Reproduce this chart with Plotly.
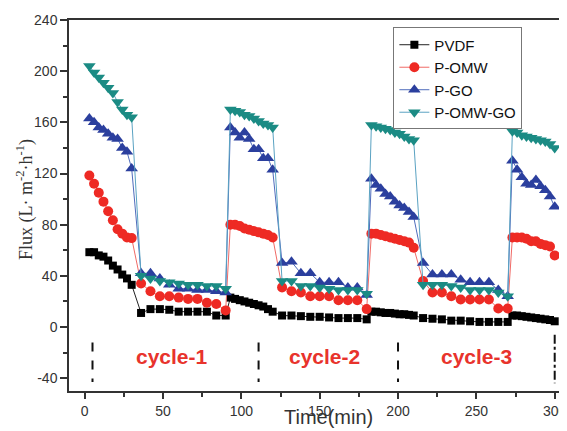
import plotly.graph_objects as go

# ---- data ----
time = [3, 6, 9, 12, 15, 18, 21, 24, 27, 30,
        36, 42, 48, 54, 60, 66, 72, 78, 84, 90,
        93, 96, 99, 102, 105, 108, 111, 114, 117, 120,
        126, 132, 138, 144, 150, 156, 162, 168, 174, 180,
        183, 186, 189, 192, 195, 198, 201, 204, 207, 210,
        216, 222, 228, 234, 240, 246, 252, 258, 264, 270,
        273, 276, 279, 282, 285, 288, 291, 294, 297, 300]

pvdf = [58.5, 58.5, 56, 55, 52, 48, 45, 41, 38, 33,
        11, 14, 14, 13.5, 12, 12, 12, 12, 9, 9,
        23, 22, 21, 20, 19, 18, 17, 16, 14, 12,
        9, 9, 8.5, 8, 8, 7.5, 7, 7, 7, 6,
        12, 12, 11.5, 11, 11, 10.5, 10, 10, 9.5, 9,
        7, 6.5, 6, 5, 5, 4.5, 4, 4, 4, 4,
        9, 9, 8.5, 8, 7.5, 7, 6.5, 6, 5.5, 4.5]

p_omw = [118.5, 112, 105, 98, 90.5, 83.5, 76.5, 73, 70, 69.5,
         34, 28, 24, 24, 23, 22, 22, 19, 18, 13,
         80, 80, 79, 77, 76, 75, 74, 73, 72, 70,
         31, 28, 27, 24, 24, 24, 21, 21, 21, 14,
         73, 73, 72, 71, 70, 69, 68, 67, 66, 62,
         36, 27, 27, 24, 21.5, 21.5, 21.5, 21.5, 14.5, 14.5,
         70, 70, 70, 69, 67, 67, 65, 64, 63, 56]

p_go = [163, 160, 156, 154, 151, 148, 147, 140, 137, 124,
        42, 42, 38, 33, 30, 30, 29, 29, 28, 27,
        156, 152, 148, 152, 147, 139, 139, 132, 132, 123,
        50, 51, 42, 42, 35, 35, 35, 31, 31, 25,
        116, 111, 108, 104, 102, 98, 95, 93, 90, 86,
        50, 41, 41, 41, 37, 35, 35, 35, 29, 24,
        130, 123, 117, 112, 111, 115, 110, 107, 102, 94]

p_omw_go = [204, 199, 195, 191, 187, 183, 176, 170, 166, 164,
            40, 38, 36, 35, 34, 33, 33, 32, 32, 30,
            170, 169, 168, 166, 165, 163, 161, 159, 158, 156,
            36, 36, 32, 32, 31, 30, 29, 29, 29, 26,
            158, 157, 156, 155, 154, 152, 151, 149, 147, 146,
            33, 33, 33, 32, 31, 29, 29, 29, 27, 24,
            153, 152, 150, 149, 148, 147, 146, 145, 143, 140]

series_names = ["PVDF", "P-OMW", "P-GO", "P-OMW-GO"]
cycle_labels = ["cycle-1", "cycle-2", "cycle-3"]
cycle_label_x = [55.5, 153, 250]
cycle_label_y = -23
divider_x = [5, 111, 200]
end_x = 300
divider_y = [-12, -43]

y_ticks = [-40, 0, 40, 80, 120, 160, 200, 240]
y_tick_text = ["-40", "0", "40", "80", "120", "160", "200", "240"]
x_ticks = [0, 50, 100, 150, 200, 250, 300]

# ---- figure ----
fig = go.Figure()
styles = [
    dict(values=pvdf, mcolor="#000000", lcolor="#222222", symbol="square", size=8),
    dict(values=p_omw, mcolor="#ee2a24", lcolor="#f06a66", symbol="circle", size=10),
    dict(values=p_go, mcolor="#2b3f9e", lcolor="#4f6cbc", symbol="triangle-up", size=11),
    dict(values=p_omw_go, mcolor="#1b8b84", lcolor="#5aa2c2", symbol="triangle-down", size=11),
]
for name, st in zip(series_names, styles):
    fig.add_trace(go.Scatter(
        x=time, y=st["values"], name=name, mode="lines+markers",
        line=dict(color=st["lcolor"], width=1),
        marker=dict(color=st["mcolor"], symbol=st["symbol"], size=st["size"],
                    line=dict(width=0)),
    ))

for lab, lx in zip(cycle_labels, cycle_label_x):
    fig.add_annotation(x=lx, y=cycle_label_y, text="<b>%s</b>" % lab, showarrow=False,
                       font=dict(family="Liberation Sans, Arial", size=21, color="#e8332c"))

for dx in divider_x:
    fig.add_shape(type="line", x0=dx, x1=dx, y0=divider_y[0], y1=divider_y[1],
                  xref="x", yref="y", line=dict(color="#111111", width=2, dash="dash"))
fig.add_shape(type="line", x0=end_x, x1=end_x, y0=-6, y1=-44, xref="x", yref="y",
              line=dict(color="#111111", width=2, dash="dashdot"))

axis_font = dict(family="Liberation Sans, Arial", size=14, color="#333333")
# page body has an 8px default margin: figure drawn at (8, 8)
fig.update_layout(
    width=559, height=423,
    margin=dict(l=61, r=0, t=11.5, b=39.5),
    paper_bgcolor="white", plot_bgcolor="white",
    showlegend=True,
    legend=dict(x=(396 - 69) / 498, y=(391.5 - 27) / 372, xanchor="left", yanchor="top",
                bordercolor="#777777", borderwidth=1, bgcolor="white",
                font=dict(family="Liberation Sans, Arial", size=15, color="#111111"),
                tracegroupgap=0),
    xaxis=dict(range=[-10, 305.3], tickvals=x_ticks, ticks="outside", ticklen=6,
               tickwidth=1.5, tickcolor="#333", showline=True, linecolor="#333",
               linewidth=1.5, mirror=True, showgrid=False, zeroline=False,
               tickfont=axis_font, ticklabeloverflow="allow",
               minor=dict(tickvals=[25, 75, 125, 175, 225, 275], ticks="outside",
                          ticklen=4, tickcolor="#333", tickwidth=1.5)),
    yaxis=dict(range=[-50, 240], tickvals=y_ticks, ticktext=y_tick_text,
               ticks="outside", ticklen=7,
               tickwidth=1.5, tickcolor="#333", showline=True, linecolor="#333",
               linewidth=1.5, showgrid=False, zeroline=False, tickfont=axis_font,
               minor=dict(tickvals=[-20, 20, 60, 100, 140, 180, 220], ticks="outside",
                          ticklen=4, tickcolor="#333", tickwidth=1.5)),
)

fig.add_annotation(xref="paper", yref="paper", x=0, y=0.515, xshift=-44,
                   text="Flux (L· m<sup>-2</sup>·h<sup>-1</sup>)", textangle=-90,
                   showarrow=False, xanchor="center", yanchor="middle",
                   font=dict(family="Liberation Serif, Times New Roman", size=18, color="#333333"))
fig.add_annotation(xref="paper", yref="paper", x=(331 - 69) / 498, y=0, yshift=-26,
                   text="Time(min)", showarrow=False, xanchor="center", yanchor="middle",
                   font=dict(family="Liberation Sans, Arial", size=20, color="#333333"))

fig.write_html("out.html")
